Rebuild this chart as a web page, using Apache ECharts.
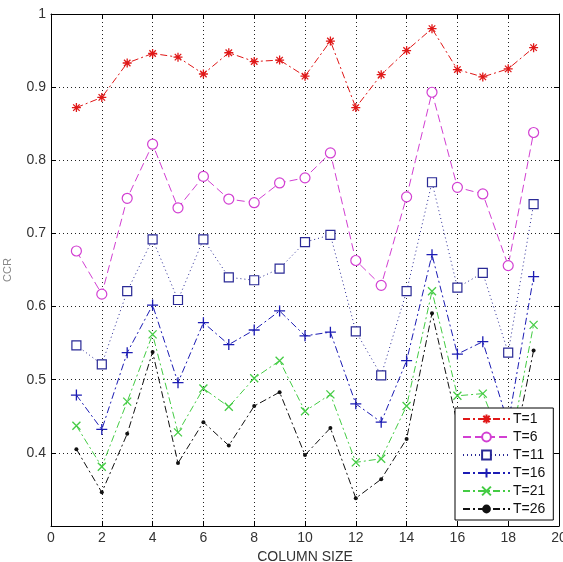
<!DOCTYPE html>
<html>
<head>
<meta charset="utf-8">
<script src="https://cdn.jsdelivr.net/npm/echarts@6/dist/echarts.min.js"></script>
<style>html,body{margin:0;padding:0;background:#fff}#c{width:563px;height:562px}</style>
</head>
<body>
<div id="c"></div>
<script>
const columnSizes = [1,2,3,4,5,6,7,8,9,10,11,12,13,14,15,16,17,18,19];
const seriesNames = ['T=1','T=6','T=11','T=16','T=21','T=26'];
const t1  = [0.872,0.886,0.933,0.946,0.941,0.918,0.947,0.935,0.937,0.915,0.963,0.872,0.917,0.950,0.980,0.924,0.914,0.925,0.954];
const t6  = [0.676,0.617,0.748,0.822,0.735,0.778,0.747,0.742,0.769,0.776,0.810,0.663,0.629,0.750,0.893,0.763,0.754,0.656,0.838];
const t11 = [0.547,0.521,0.621,0.692,0.609,0.692,0.640,0.636,0.652,0.688,0.698,0.566,0.506,0.621,0.770,0.626,0.646,0.537,0.740];
const t16 = [0.479,0.432,0.537,0.602,0.496,0.578,0.548,0.568,0.594,0.560,0.565,0.467,0.442,0.526,0.671,0.535,0.552,0.440,0.641];
const t21 = [0.437,0.381,0.470,0.562,0.428,0.488,0.463,0.502,0.526,0.457,0.480,0.387,0.392,0.464,0.621,0.478,0.481,0.395,0.575];
const t26 = [0.405,0.346,0.426,0.538,0.386,0.442,0.410,0.464,0.483,0.397,0.434,0.338,0.364,0.419,0.591,0.440,0.430,0.370,0.540];
const xTicks = [0,2,4,6,8,10,12,14,16,18,20];
const yTicks = [0.3,0.4,0.5,0.6,0.7,0.8,0.9,1];

const allValues = [t1,t6,t11,t16,t21,t26];
const colors = ['#e01818','#d23fd2','#2a2a96','#1c1cb4','#44cc44','#111111'];
const dashDot = [7,3,2,3];
const lineTypes = [dashDot,[8,4],[1,3],dashDot,dashDot,dashDot];
const starPath = 'path://M0,-5L0,5M-5,0L5,0M-3.6,-3.6L3.6,3.6M-3.6,3.6L3.6,-3.6';
const plusPath = 'path://M0,-5L0,5M-5,0L5,0';
const xPath = 'path://M-3.6,-3.6L3.6,3.6M-3.6,3.6L3.6,-3.6';
const symbols = [starPath,'circle','rect',plusPath,xPath,'circle'];
const symSizes = [9,10,9,11,8,4];

const font = '"Liberation Sans", Arial, sans-serif';

const series = seriesNames.map((name,i)=>{
  const hollow = (i===1||i===2);
  const strokeOnly = (i===0||i===3||i===4);
  return {
    name: name,
    type: 'line',
    data: columnSizes.map((x,k)=>[x, allValues[i][k]]),
    symbol: symbols[i],
    symbolSize: symSizes[i],
    showAllSymbol: true,
    lineStyle: {color: colors[i], width: 1, type: lineTypes[i]},
    itemStyle: {
      color: hollow ? '#fff' : colors[i],
      borderColor: colors[i],
      borderWidth: strokeOnly ? 1.3 : (hollow ? 1.2 : 0),
      opacity: 1
    },
    emphasis: {disabled: true},
    animation: false,
    z: 2
  };
});

const chart = echarts.init(document.getElementById('c'), null, {renderer: 'canvas'});
chart.setOption({
  animation: false,
  backgroundColor: '#fff',
  grid: {left: 51, right: 4, top: 14, bottom: 36, containLabel: false, outerBoundsMode: 'none'},
  xAxis: [{
    type: 'value', min: xTicks[0], max: xTicks[xTicks.length-1], interval: 2,
    name: 'COLUMN SIZE', nameLocation: 'middle', nameGap: 20,
    nameTextStyle: {fontFamily: font, fontSize: 14, color: '#333'},
    axisLine: {show: true, lineStyle: {color: '#000', width: 1}},
    axisTick: {show: true, inside: true, length: 5, lineStyle: {color: '#000'}},
    axisLabel: {fontFamily: font, fontSize: 14, color: '#333', margin: 5},
    splitLine: {show: true, lineStyle: {color: '#222', type: [1,3], width: 1}}
  },{
    type: 'value', position: 'top', min: 0, max: 20, interval: 2,
    axisLine: {show: true, onZero: false, lineStyle: {color: '#000', width: 1}},
    axisTick: {show: true, inside: true, length: 5, lineStyle: {color: '#000'}},
    axisLabel: {show: false}, splitLine: {show: false}
  }],
  yAxis: [{
    type: 'value', min: yTicks[0], max: yTicks[yTicks.length-1], interval: 0.1,
    name: 'CCR', nameLocation: 'middle', nameGap: 38, nameRotate: 90,
    nameTextStyle: {fontFamily: font, fontSize: 11, color: '#888'},
    axisLine: {show: true, lineStyle: {color: '#000', width: 1}},
    axisTick: {show: true, inside: true, length: 5, lineStyle: {color: '#000'}},
    axisLabel: {fontFamily: font, fontSize: 14, color: '#333', margin: 5, showMinLabel: false,
      formatter: v => (Math.round(v*10)/10).toString()},
    splitLine: {show: true, lineStyle: {color: '#222', type: [1,3], width: 1}}
  },{
    type: 'value', position: 'right', min: 0.3, max: 1, interval: 0.1,
    axisLine: {show: true, onZero: false, lineStyle: {color: '#000', width: 1}},
    axisTick: {show: true, inside: true, length: 5, lineStyle: {color: '#000'}},
    axisLabel: {show: false}, splitLine: {show: false}
  }],
  legend: {
    show: true, orient: 'vertical', left: 455, top: 408,
    padding: [3, 8, 3, 7],
    itemWidth: 47, itemHeight: 11, itemGap: 2,
    backgroundColor: '#fff', borderColor: '#000', borderWidth: 1, borderRadius: 0,
    textStyle: {fontFamily: font, fontSize: 14, lineHeight: 16, color: '#111', padding: [0,0,0,-2]},
    data: seriesNames,
    z: 10
  },
  series: series
});
</script>
</body>
</html>
